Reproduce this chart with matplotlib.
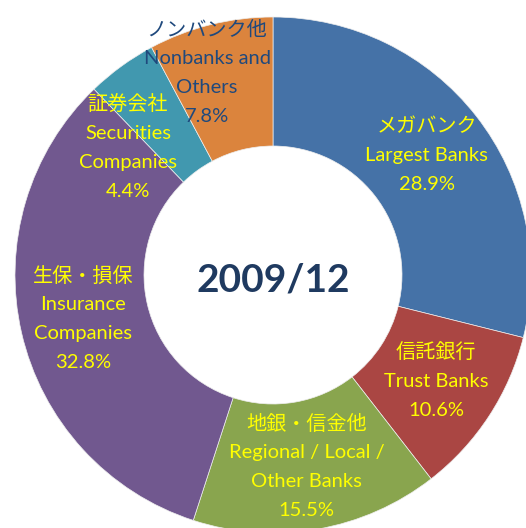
import numpy as np
import matplotlib.pyplot as plt

# data
jp_names = ['メガバンク', '信託銀行', '地銀・信金他', '生保・損保', '証券会社', 'ノンバンク他']
en_names = [['Largest Banks'], ['Trust Banks'], ['Regional / Local /', 'Other Banks'],
            ['Insurance', 'Companies'], ['Securities', 'Companies'], ['Nonbanks and', 'Others']]
shares = [28.9, 10.6, 15.5, 32.8, 4.4, 7.8]
colors = ['#4572A7', '#AA4643', '#89A54E', '#71588F', '#4198AF', '#DB843D']
text_colors = ['#FFFF00', '#FFFF00', '#FFFF00', '#FFFF00', '#FFFF00', '#1F497D']
center_label = '2009/12'

W, H = 526, 528
cx, cy = 273, H - 275
R = 258

fig = plt.figure(figsize=(W / 100, H / 100), dpi=100)
ax = fig.add_axes([0, 0, 1, 1])

wedges, _ = ax.pie(shares, colors=colors, startangle=90, counterclock=False,
                   radius=R, center=(cx, cy),
                   wedgeprops=dict(width=R * 0.5, edgecolor='#eeeeee', linewidth=0.5))

ax.set_xlim(0, W)
ax.set_ylim(0, H)
ax.set_aspect('equal')
ax.axis('off')

fonts = ['Lato', 'Noto Sans CJK JP', 'DejaVu Sans']
pitch = 29 * 0.72  # line pitch in points

# labels that Excel moved away from the slice middle (pixel from top)
moved = {4: (128, 148), 5: (207, 73)}

for i, w in enumerate(wedges):
    if i in moved:
        x, y = moved[i][0], H - moved[i][1]
    else:
        a = np.deg2rad((w.theta1 + w.theta2) / 2)
        x = cx + 0.755 * R * np.cos(a)
        y = cy + 0.755 * R * np.sin(a)
    lines = [jp_names[i]] + en_names[i] + ['%.1f%%' % shares[i]]
    n = len(lines)
    for k, s in enumerate(lines):
        off = ((n - 1) / 2 - k) * pitch
        size = 14.5 if k == 0 else 14.5
        ax.annotate(s, (x, y), xytext=(0, off), textcoords='offset points',
                    ha='center', va='center', fontsize=size, color=text_colors[i],
                    family=fonts)

ax.text(cx, H - 280, center_label, ha='center', va='center', fontsize=28,
        fontweight='bold', color='#1F3A60', family=fonts)

fig.savefig('out.png', dpi=100)
